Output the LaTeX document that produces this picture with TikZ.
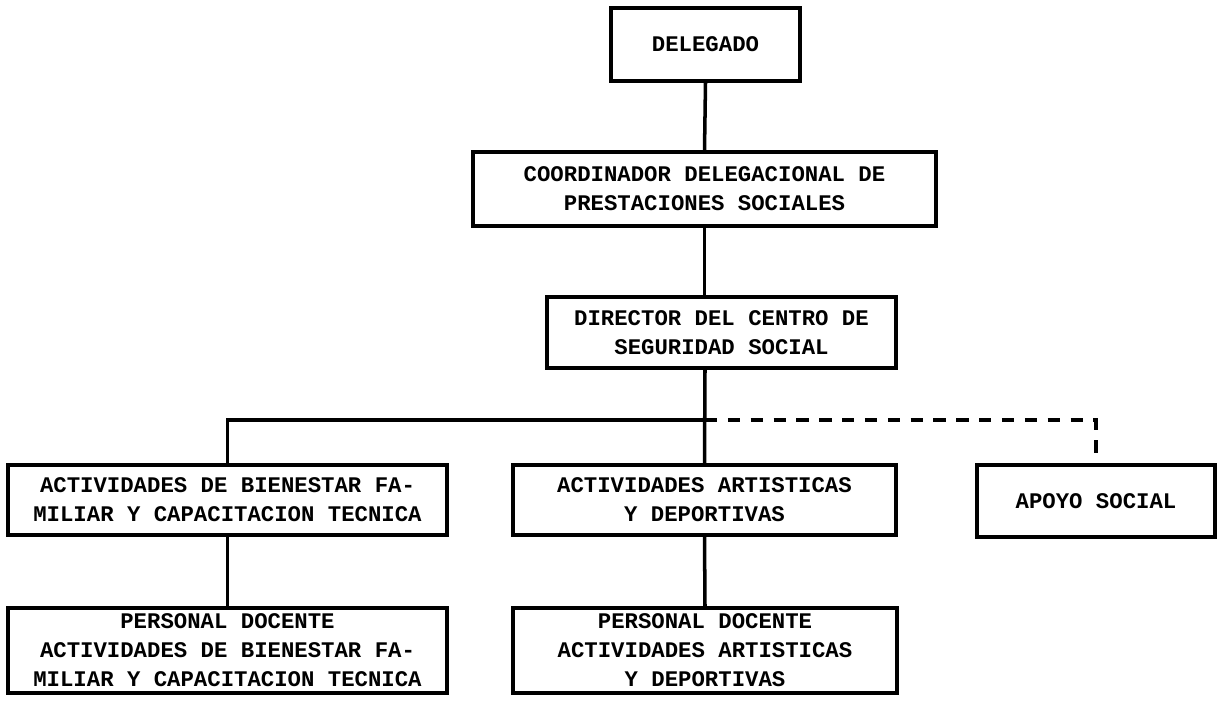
\documentclass[tikz,border=0pt]{standalone}
\usepackage{fontspec}
\setmonofont{Liberation Mono}
\usepackage{tikz}

\tikzset{
  box/.style={draw, line width=2pt, align=center, inner sep=0pt,
    font=\ttfamily\bfseries\fontsize{12.7}{16.5}\selectfont},
  link/.style={line width=2pt}
}

\begin{document}
\begin{tikzpicture}
  \useasboundingbox (0,0) rectangle (24.36,14.06);
  % niveles superiores
  \node[box, minimum width=3.78cm, minimum height=1.46cm] (del) at (14.11,13.17) {DELEGADO};
  \node[box, minimum width=9.26cm, minimum height=1.48cm] (coord) at (14.09,10.28)
    {COORDINADOR DELEGACIONAL DE\\PRESTACIONES SOCIALES};
  \node[box, minimum width=6.98cm, minimum height=1.42cm] (dir) at (14.43,7.41)
    {DIRECTOR DEL CENTRO DE\\SEGURIDAD SOCIAL};
  % actividades
  \node[box, minimum width=8.78cm, minimum height=1.40cm] (fam) at (4.55,4.06)
    {ACTIVIDADES DE BIENESTAR FA-\\MILIAR Y CAPACITACION TECNICA};
  \node[box, minimum width=7.66cm, minimum height=1.40cm] (art) at (14.09,4.06)
    {ACTIVIDADES ARTISTICAS\\Y DEPORTIVAS};
  \node[box, minimum width=4.76cm, minimum height=1.44cm] (apoyo) at (21.92,4.04) {APOYO SOCIAL};
  % personal docente
  \node[box, minimum width=8.78cm, minimum height=1.70cm] (pfam) at (4.55,1.05)
    {PERSONAL DOCENTE\\ACTIVIDADES DE BIENESTAR FA-\\MILIAR Y CAPACITACION TECNICA};
  \node[box, minimum width=7.68cm, minimum height=1.70cm] (part) at (14.10,1.05)
    {PERSONAL DOCENTE\\ACTIVIDADES ARTISTICAS\\Y DEPORTIVAS};

  \coordinate (bar) at (14.1,5.66);

  \draw[link] (del.south) -- (coord.north);
  \draw[link] (coord.south) -- (coord.south |- dir.north);
  \draw[link] (bar |- dir.south) -- (art.north);
  \draw[link] (fam.north) |- (bar);
  \draw[link, dash pattern=on 7pt off 6pt] (bar) -| (apoyo.north);
  \draw[link] (fam.south) -- (pfam.north);
  \draw[link] (art.south) -- (part.north);
\end{tikzpicture}
\end{document}
